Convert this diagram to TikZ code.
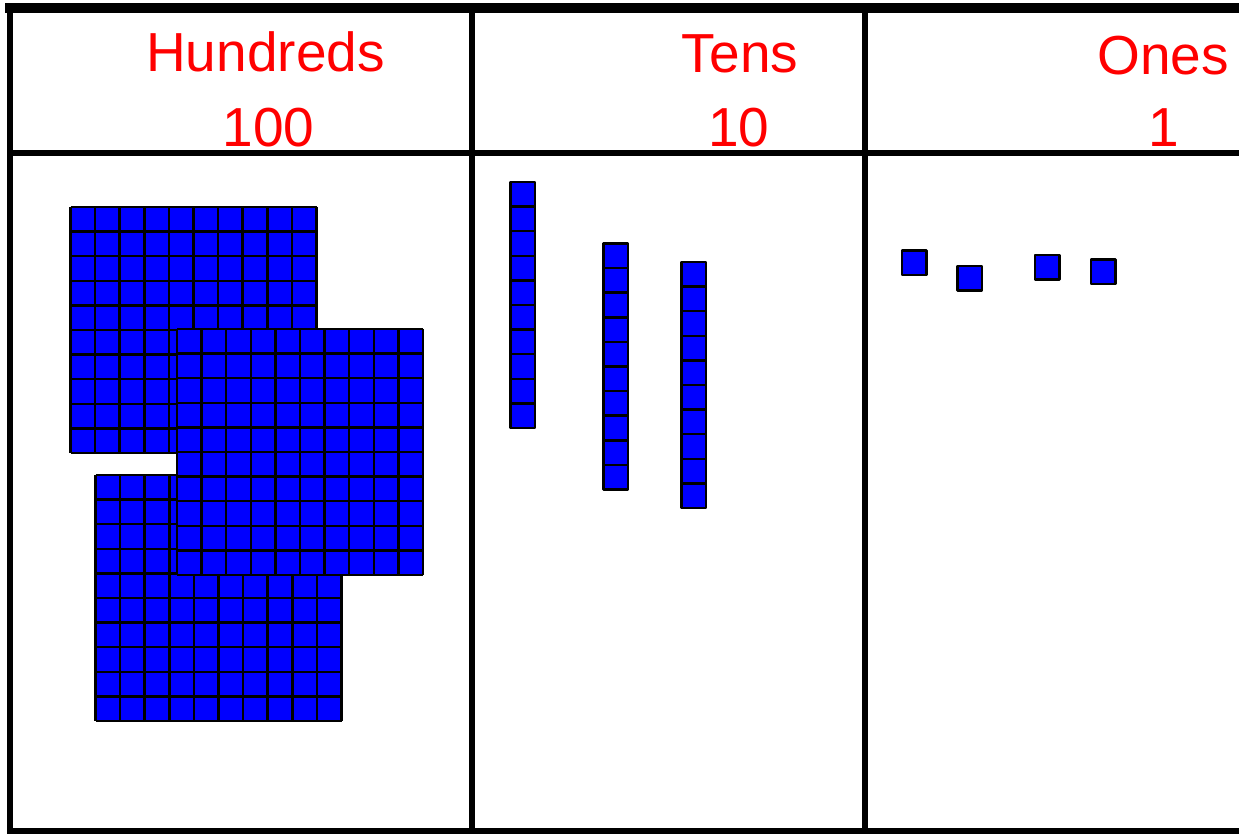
\documentclass[tikz,border=0pt]{standalone}
\usepackage{fontspec}
\setmainfont{Liberation Sans}
\definecolor{pvLabelColor}{rgb}{1,0,0}
\definecolor{pvBlockColor}{rgb}{0,0,1}
\begin{document}
\begin{tikzpicture}[x=0.5pt, y=-0.5pt]
% Place value chart with base-ten blocks
\def\cellsz{24.6}
\providecommand{\pvTableLineWidth}{3pt}
\providecommand{\pvTopLineWidth}{5pt}
\providecommand{\pvCellLineWidth}{1.25pt}
\tikzset{
  placehead/.style={text=pvLabelColor, font=\fontsize{27.5}{34}\selectfont, anchor=base, inner sep=0pt},
  tableline/.style={draw=black, line width=\pvTableLineWidth, line cap=rect},
  blockcell/.style={fill=pvBlockColor, draw=black, line width=\pvCellLineWidth, line join=round}
}
\useasboundingbox (0,0) rectangle (1239,834);
% Table frame (open on the right)
\draw[tableline, line width=\pvTopLineWidth] (10,8.5) -- (1239,8.5);
\draw[tableline] (10,8.5) -- (10,831) -- (1239,831);
\draw[tableline] (10,153) -- (1239,153);
\draw[tableline] (472,8.5) -- (472,831);
\draw[tableline] (865,8.5) -- (865,831);
% Headings
\node[placehead] (hundreds) at (265.5,72) {Hundreds};
\node[placehead] (hundredsval) at (268.5,147) {100};
\node[placehead] (tens) at (740,73) {Tens};
\node[placehead] (tensval) at (739,147) {10};
\node[placehead] (ones) at (1163,75) {Ones};
\node[placehead] (onesval) at (1164,147) {1};
% Hundreds: three flats, the right one lies on top
\begin{scope}[blockcell]
  \foreach \bx/\by in {70.5/207, 95.5/475, 177/329} {
    \fill (\bx,\by) rectangle ++(10*\cellsz,10*\cellsz);
    \foreach \k in {0,...,10} {
      \draw (\bx+\k*\cellsz,\by) -- ++(0,10*\cellsz);
      \draw (\bx,\by+\k*\cellsz) -- ++(10*\cellsz,0);
    }
  }
\end{scope}
% Tens: three rods
\begin{scope}[blockcell]
  \foreach \rx/\ry in {510.5/182, 603.5/243.5, 681.5/262} {
    \filldraw (\rx,\ry) rectangle ++(\cellsz,10*\cellsz);
    \foreach \k in {1,...,9}
      \draw (\rx,\ry+\k*\cellsz) -- ++(\cellsz,0);
  }
\end{scope}
% Ones: four unit cubes
\begin{scope}[blockcell]
  \filldraw (902,250.5) rectangle ++(\cellsz,\cellsz);
  \filldraw (957.5,266) rectangle ++(\cellsz,\cellsz);
  \filldraw (1035,255) rectangle ++(\cellsz,\cellsz);
  \filldraw (1091,259.5) rectangle ++(\cellsz,\cellsz);
\end{scope}
\end{tikzpicture}
\end{document}
